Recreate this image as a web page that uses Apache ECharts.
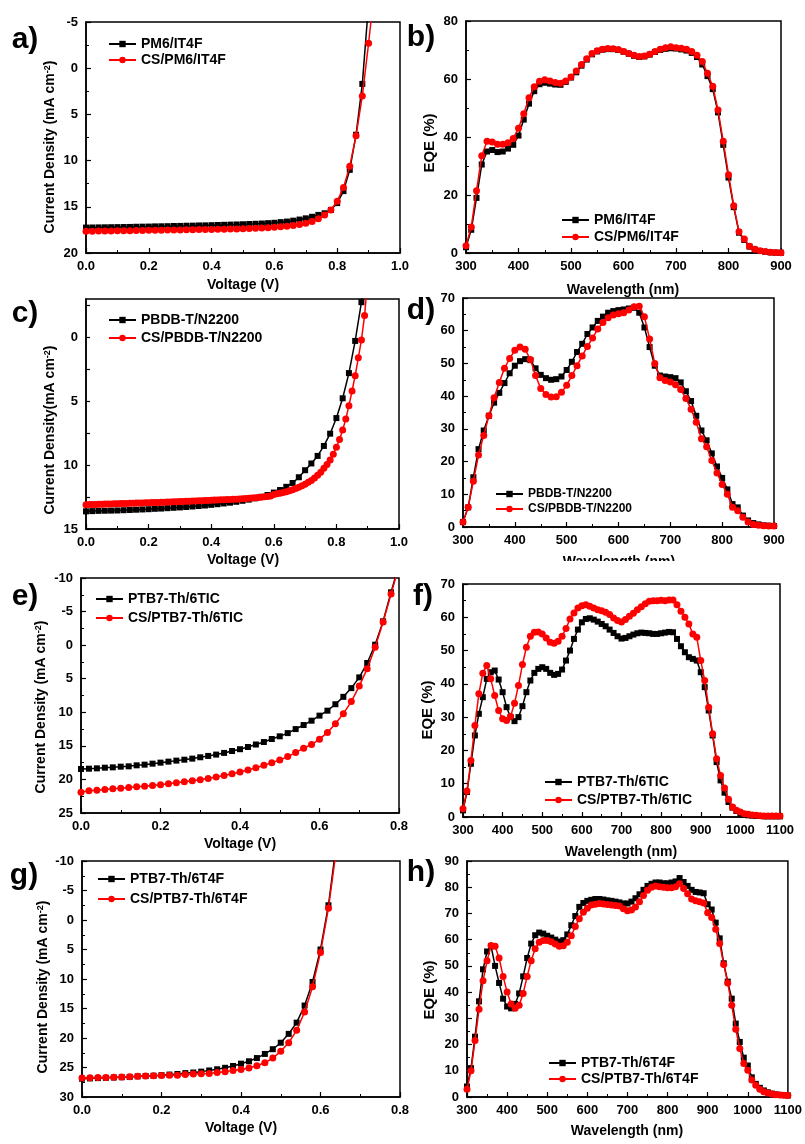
<!DOCTYPE html>
<html>
<head>
<meta charset="utf-8">
<script src="https://cdn.jsdelivr.net/npm/echarts@6/dist/echarts.min.js"></script>
<style>
  html, body { margin: 0; padding: 0; background: #fff; }
  #chart { width: 805px; height: 1144px; }
</style>
</head>
<body>
<div id="chart"></div>
<script>
const FONT = '"Liberation Sans", Arial, sans-serif';

// x grids
const volt02 = [0,0.02,0.04,0.06,0.08,0.1,0.12,0.14,0.16,0.18,0.2,0.22,0.24,0.26,0.28,0.3,0.32,0.34,0.36,0.38,
  0.4,0.42,0.44,0.46,0.48,0.5,0.52,0.54,0.56,0.58,0.6,0.62,0.64,0.66,0.68,0.7,0.72,0.74,0.76,0.78,
  0.8,0.82,0.84,0.86,0.88,0.9,0.92];
const volt01 = [0,0.01,0.02,0.03,0.04,0.05,0.06,0.07,0.08,0.09,0.1,0.11,0.12,0.13,0.14,0.15,0.16,0.17,0.18,0.19,
  0.2,0.21,0.22,0.23,0.24,0.25,0.26,0.27,0.28,0.29,0.3,0.31,0.32,0.33,0.34,0.35,0.36,0.37,0.38,0.39,
  0.4,0.41,0.42,0.43,0.44,0.45,0.46,0.47,0.48,0.49,0.5,0.51,0.52,0.53,0.54,0.55,0.56,0.57,0.58,0.59,
  0.6,0.61,0.62,0.63,0.64,0.65,0.66,0.67,0.68,0.69,0.7,0.71,0.72,0.73,0.74,0.75,0.76,0.77,0.78,0.79,
  0.8,0.81,0.82,0.83,0.84,0.85,0.86,0.87,0.88,0.89,0.9];
const wl900 = [300,310,320,330,340,350,360,370,380,390,400,410,420,430,440,450,460,470,480,490,
  500,510,520,530,540,550,560,570,580,590,600,610,620,630,640,650,660,670,680,690,
  700,710,720,730,740,750,760,770,780,790,800,810,820,830,840,850,860,870,880,890,900];
const wl1100 = [300,310,320,330,340,350,360,370,380,390,400,410,420,430,440,450,460,470,480,490,
  500,510,520,530,540,550,560,570,580,590,600,610,620,630,640,650,660,670,680,690,
  700,710,720,730,740,750,760,770,780,790,800,810,820,830,840,850,860,870,880,890,
  900,910,920,930,940,950,960,970,980,990,1000,1010,1020,1030,1040,1050,1060,1070,1080,1090,1100];

// legend names
const namesA = ['PM6/IT4F', 'CS/PM6/IT4F'];
const namesC = ['PBDB-T/N2200', 'CS/PBDB-T/N2200'];
const namesE = ['PTB7-Th/6TIC', 'CS/PTB7-Th/6TIC'];
const namesG = ['PTB7-Th/6T4F', 'CS/PTB7-Th/6T4F'];

// a) J-V PM6/IT4F
const jvA_ref = [17.25,17.24,17.23,17.22,17.21,17.2,17.19,17.18,17.16,17.15,
  17.14,17.12,17.11,17.1,17.08,17.07,17.05,17.04,17.02,17.01,
  16.99,16.97,16.95,16.93,16.91,16.89,16.86,16.84,16.81,16.77,
  16.73,16.66,16.6,16.5,16.38,16.25,16.08,15.88,15.7,15.35,
  14.6,13.3,11.0,7.2,1.7,-7];
const jvA_cs = [17.65,17.64,17.63,17.62,17.61,17.6,17.59,17.58,17.57,17.56,
  17.55,17.54,17.53,17.52,17.51,17.5,17.49,17.48,17.47,17.46,
  17.45,17.43,17.42,17.41,17.39,17.38,17.36,17.33,17.3,17.27,
  17.22,17.17,17.1,17.02,16.92,16.78,16.6,16.3,15.9,15.35,
  14.4,12.9,10.6,7.3,3.0,-2.7,-9];

// b) EQE PM6/IT4F
const eqeB_ref = [2,8,19,30.5,35,35.5,34.8,35,36,37.3,
  40.5,46,51.5,55.8,58.2,58.7,58.4,58.1,58,59,
  60.5,62.3,64.6,66.7,68.5,69.5,70.1,70.3,70.3,70,
  69.4,68.7,68,67.6,67.8,68.4,69.3,70,70.4,70.6,
  70.5,70.2,69.8,69,67.6,65,61,56.5,48.5,37.3,
  26,15.8,7,4.5,2.2,1.2,0.7,0.4,0.2,0.1,0.1];
const eqeB_cs = [2.5,9,21.5,33.5,38.5,38.3,37.5,37.5,38,39.5,
  43,48,53.5,57.3,59.2,59.7,59.3,58.8,58.5,59.3,
  60.7,62.8,65,67,68.8,69.7,70.3,70.5,70.4,70.2,
  69.5,68.8,68.2,67.8,67.9,68.5,69.5,70.3,70.8,71.1,
  70.8,70.6,70.3,69.5,68.2,66,62,57.5,49.3,38.5,
  27,16.3,7.3,4.8,2.3,1.3,0.8,0.5,0.3,0.2,0.1];

// c) J-V PBDB-T/N2200
const jvC_ref = [13.62,13.6,13.58,13.57,13.56,13.55,13.53,13.51,13.49,13.47,
  13.45,13.42,13.4,13.37,13.34,13.31,13.28,13.24,13.2,13.16,
  13.11,13.06,13.0,12.94,12.87,12.79,12.7,12.6,12.48,12.34,
  12.15,11.95,11.7,11.4,10.95,10.4,9.87,9.28,8.5,7.54,
  6.32,4.77,2.8,0.28,-2.75,-6.5];
const jvC_cs = [13.1,13.09,13.08,13.08,13.07,13.06,13.05,13.05,13.04,13.03,
  13.02,13.01,13.01,13.0,12.99,12.98,12.97,12.97,12.96,12.95,
  12.94,12.93,12.92,12.92,12.91,12.9,12.89,12.88,12.87,12.86,
  12.85,12.84,12.83,12.82,12.81,12.8,12.79,12.78,12.77,12.76,
  12.75,12.74,12.73,12.72,12.71,12.7,12.69,12.68,12.67,12.66,
  12.64,12.62,12.6,12.58,12.56,12.54,12.51,12.48,12.45,12.41,
  12.3,12.25,12.2,12.14,12.08,12.0,11.92,11.83,11.73,11.62,
  11.5,11.35,11.2,11.0,10.8,10.55,10.25,9.95,9.6,9.15,
  8.6,8.0,7.25,6.4,5.35,4.2,3.0,1.6,0.2,-1.7,-4.5];

// d) EQE PBDB-T/N2200
const eqeD_ref = [1.5,6,15.2,23.8,29.5,34,38,41,44,47,
  49.3,50.7,51.3,51,48.5,46.5,45.5,45,45.2,46,
  48,50.5,53.5,56,59,61,63,64.3,65.5,66,
  66.3,66.5,66.8,67,65.5,61,55,49.3,46.3,46,
  45.8,45.5,44.2,41.5,38.5,34,29.5,26.5,22.5,18.5,
  15,11.5,7,6,3.5,2,1.2,0.8,0.5,0.4,0.3];
const eqeD_cs = [1.5,6,14,22,28,34,39.5,44.2,48.5,51.5,
  54,55,54.3,51.2,46.3,42.3,40.5,39.7,39.8,41.2,
  43.3,46.3,49.3,52.3,55.2,57.8,60.5,62.5,64,64.8,
  65.2,65.5,66.3,67.3,67.5,64.3,57.5,50,45.6,44.8,
  44.3,43.5,42,39.3,36,32,27,24.5,20.3,16.5,
  13,10,6,5,3,1.5,0.8,0.5,0.4,0.3,0.3];

// e) J-V PTB7-Th/6TIC
const jvE_ref = [18.45,18.4,18.35,18.25,18.2,18.1,18.05,17.9,17.8,17.65,
  17.5,17.35,17.2,17.06,16.9,16.7,16.5,16.3,16.05,15.77,
  15.5,15.17,14.8,14.43,13.98,13.58,13.1,12.5,11.9,11.25,
  10.5,9.76,8.8,7.7,6.4,4.8,2.66,-0.07,-3.55,-7.87,-12];
const jvE_cs = [21.9,21.7,21.6,21.5,21.4,21.3,21.2,21.1,21.0,20.9,
  20.8,20.65,20.5,20.35,20.2,20.05,19.85,19.65,19.4,19.15,
  18.9,18.6,18.25,17.9,17.5,17.1,16.6,16.0,15.35,14.8,
  14.0,13.0,11.7,10.2,8.4,6.1,3.5,0.3,-3.45,-7.6,-11.8];

// f) EQE PTB7-Th/6TIC
const eqeF_ref = [2,7.5,16,24.5,31,36,41.5,43.5,44,41.3,
  37.5,33,30,28.8,30,33.3,37.5,41,43.3,44.5,
  45,44.5,43.3,42.7,43,44.3,47,50,53.5,56.3,
  58.5,59.5,59.7,59.3,58.7,58,57.3,56.3,55.3,54.3,
  53.6,53.8,54.3,54.8,55.2,55.4,55.3,55.2,55,55,
  55.2,55.4,55.6,55.5,53.5,51.3,49.5,48,47.5,47,
  43.5,39,32,24.5,16.5,11,7.3,4.5,2.8,1.8,
  1.1,0.7,0.5,0.4,0.3,0.3,0.2,0.2,0.2,0.2,0.2];
const eqeF_cs = [2.5,7.8,17,27.5,37,43.2,45.5,41.5,36.5,32,
  29.5,29,30.2,34.2,39.5,45.8,51,54.3,55.5,55.6,
  55,53.8,52.5,52.2,52.8,54.3,56.6,59.5,61.3,62.8,
  63.5,63.8,63.3,62.8,62.3,62,61.5,60.8,59.8,59,
  58.6,59.3,60.3,61.2,62.3,63.2,64.1,64.8,65,65,
  65.1,65,65.2,65.2,63.8,61.8,60,58,55,54,
  47,41,33,25,17.5,12.5,8.7,5.3,3,2,
  1.5,1,0.8,0.6,0.5,0.4,0.3,0.3,0.3,0.3,0.3];

// g) J-V PTB7-Th/6T4F
const jvG_ref = [26.9,26.85,26.8,26.75,26.7,26.65,26.6,26.5,26.45,26.4,
  26.3,26.2,26.1,25.95,25.85,25.7,25.5,25.3,25.05,24.75,
  24.35,23.95,23.4,22.7,21.9,20.8,19.3,17.4,14.5,10.5,
  5.0,-2.5,-13];
const jvG_cs = [26.8,26.75,26.7,26.7,26.65,26.6,26.55,26.5,26.45,26.4,
  26.35,26.3,26.3,26.2,26.1,26.05,26.0,25.85,25.7,25.5,
  25.35,25.1,24.7,24.2,23.4,22.25,20.8,18.7,15.6,11.3,
  5.5,-2.0,-12];

// h) EQE PTB7-Th/6T4F
const eqeH_ref = [4,11,23,36.5,48.7,55.5,57.5,50,43.5,37.5,
  34.5,33.8,35.5,39.5,46,53,58.5,61.7,62.7,62.3,
  61.5,60.8,60,59.3,59.8,62,65.5,69,72.5,74,
  74.8,75.2,75.5,75.5,75.3,75,74.8,74.5,74.2,73.8,
  73.8,74.5,75.8,77.3,79,80.5,81.3,81.8,81.8,81.5,
  81.5,81.8,82.2,83.5,82,80.5,79,78.2,78,77.7,
  73.5,71.5,66.5,60.5,51,44,37.5,28,21,15,
  12,7.5,5,3.5,2.5,1.8,1.3,1,0.8,0.7,0.6];
const eqeH_cs = [3,10,21.5,33.5,44.3,52,57.8,57.5,53,46,
  40,35.5,33.8,35,39.5,46,52,56.5,59,59.7,
  59.7,59.2,58.3,57.5,57.7,59,61.5,65,68,70.5,
  72,73.2,73.5,73.8,73.6,73.4,73.2,73,72.8,71.8,
  71,71.3,72.5,74.5,76.8,78.8,80,80.5,80.2,80,
  79.8,79.8,80.2,81.3,79.5,77.5,75.5,74.8,74.5,74,
  70.3,68.5,64,58.5,50.5,43.5,35,25.8,18.5,12.8,
  10.2,6.5,4.5,3,2,1.5,1.1,0.9,0.8,0.7,0.6];

function pairs(xs, ys) {
  return ys.map((y, i) => [xs[i], y]);
}

const grids = [
  {left: 86, top: 22, width: 314, height: 231},
  {left: 466, top: 21, width: 315, height: 232},
  {left: 86, top: 299, width: 313, height: 230},
  {left: 463, top: 298, width: 311, height: 229},
  {left: 81, top: 578, width: 318, height: 235},
  {left: 463, top: 584, width: 317, height: 233},
  {left: 82, top: 861, width: 318, height: 236},
  {left: 467, top: 861, width: 321, height: 236}
].map(g => Object.assign({show: true, borderColor: '#000', borderWidth: 1.5, containLabel: false}, g));

const labelStyle = {color: '#000', fontSize: 13, fontWeight: 'bold', fontFamily: FONT};

function xAxis(gi, min, max, interval, volts) {
  return {
    type: 'value', gridIndex: gi, min: min, max: max, interval: interval,
    axisLine: {onZero: false, lineStyle: {color: '#000', width: 1.5}},
    axisTick: {inside: true, length: 5, lineStyle: {color: '#000', width: 1.2}},
    minorTick: {show: true, splitNumber: 2, length: 3, lineStyle: {color: '#000', width: 1}},
    splitLine: {show: false},
    axisLabel: Object.assign({margin: 7,
      formatter: v => volts ? v.toFixed(1) : String(Math.round(v))}, labelStyle)
  };
}

function yAxis(gi, min, max, interval, inverse) {
  return {
    type: 'value', gridIndex: gi, min: min, max: max, interval: interval, inverse: !!inverse,
    axisLine: {onZero: false, lineStyle: {color: '#000', width: 1.5}},
    axisTick: {inside: true, length: 5, lineStyle: {color: '#000', width: 1.2}},
    minorTick: {show: true, splitNumber: 2, length: 3, lineStyle: {color: '#000', width: 1}},
    splitLine: {show: false},
    axisLabel: Object.assign({margin: 8}, labelStyle)
  };
}

const yC = {
  type: 'value', gridIndex: 2, min: -3, max: 15, inverse: true,
  axisLine: {onZero: false, lineStyle: {color: '#000', width: 1.5}},
  axisTick: {inside: true, length: 4, lineStyle: {color: '#000', width: 1.2},
    customValues: [-2.5, 0, 2.5, 5, 7.5, 10, 12.5, 15]},
  splitLine: {show: false},
  axisLabel: Object.assign({margin: 8, customValues: [0, 5, 10, 15]}, labelStyle)
};

function pair(gi, names, xsRef, ysRef, xsCs, ysCs) {
  return [
    {type: 'line', name: names[0], xAxisIndex: gi, yAxisIndex: gi, data: pairs(xsRef, ysRef),
      symbol: 'rect', symbolSize: 6, color: '#000', lineStyle: {color: '#000', width: 1.5},
      itemStyle: {color: '#000'}, z: 2},
    {type: 'line', name: names[1], xAxisIndex: gi, yAxisIndex: gi, data: pairs(xsCs, ysCs),
      symbol: 'circle', symbolSize: 7, color: '#ff0000', lineStyle: {color: '#ff0000', width: 1.5},
      itemStyle: {color: '#ff0000'}, z: 3}
  ];
}

function legend(names, left, top, fs, gap) {
  return {
    data: names, left: left, top: top, orient: 'vertical', selectedMode: false,
    itemWidth: 27, itemHeight: 8, itemGap: gap,
    textStyle: {color: '#000', fontSize: fs, fontWeight: 'bold', fontFamily: FONT}
  };
}

function label(text, x, y, size) {
  return {type: 'text', x: x, y: y, z: 10,
    style: {text: text, fill: '#000', fontSize: size, fontWeight: 'bold', fontFamily: FONT,
      align: 'center', verticalAlign: 'middle'}};
}

function vlabel(text, x, y, size) {
  return {type: 'text', x: x, y: y, rotation: Math.PI / 2, z: 10,
    style: {text: text, fill: '#000', fontSize: size, fontWeight: 'bold', fontFamily: FONT,
      align: 'center', verticalAlign: 'middle',
      rich: {s: {fontSize: 9, fontWeight: 'bold', fontFamily: FONT, fill: '#000', verticalAlign: 'top'}}}};
}

const chart = echarts.init(document.getElementById('chart'));
chart.setOption({
  animation: false,
  backgroundColor: '#fff',
  grid: grids,
  xAxis: [
    xAxis(0, 0, 1.0, 0.2, true),
    xAxis(1, 300, 900, 100, false),
    xAxis(2, 0, 1.0, 0.2, true),
    xAxis(3, 300, 900, 100, false),
    xAxis(4, 0, 0.8, 0.2, true),
    xAxis(5, 300, 1100, 100, false),
    xAxis(6, 0, 0.8, 0.2, true),
    xAxis(7, 300, 1100, 100, false)
  ],
  yAxis: [
    yAxis(0, -5, 20, 5, true),
    yAxis(1, 0, 80, 20),
    yC,
    yAxis(3, 0, 70, 10),
    yAxis(4, -10, 25, 5, true),
    yAxis(5, 0, 70, 10),
    yAxis(6, -10, 30, 5, true),
    yAxis(7, 0, 90, 10)
  ],
  legend: [
    legend(namesA, 103, 32, 14, 2),
    legend(namesA, 556, 208, 14, 3),
    legend(namesC, 103, 308, 14, 4),
    legend(namesC, 490, 483, 12, 3),
    legend(namesE, 90, 587, 14, 5),
    legend(namesE, 539, 770, 14, 4),
    legend(namesG, 92, 867, 14, 6),
    legend(namesG, 543, 1051, 14, 2)
  ],
  series: [].concat(
    pair(0, namesA, volt02, jvA_ref, volt02, jvA_cs),
    pair(1, namesA, wl900, eqeB_ref, wl900, eqeB_cs),
    pair(2, namesC, volt02, jvC_ref, volt01, jvC_cs),
    pair(3, namesC, wl900, eqeD_ref, wl900, eqeD_cs),
    pair(4, namesE, volt02, jvE_ref, volt02, jvE_cs),
    pair(5, namesE, wl1100, eqeF_ref, wl1100, eqeF_cs),
    pair(6, namesG, volt02, jvG_ref, volt02, jvG_cs),
    pair(7, namesG, wl1100, eqeH_ref, wl1100, eqeH_cs)
  ),
  graphic: [
    label('a)', 25, 40, 30), label('b)', 421, 38, 30),
    label('c)', 25, 314, 30), label('d)', 421, 311, 30),
    label('e)', 25, 597, 30), label('f)', 423, 597, 30),
    label('g)', 24, 876, 30), label('h)', 421, 873, 30),
    label('Voltage (V)', 243, 285, 14), label('Wavelength (nm)', 623, 290, 14),
    label('Voltage (V)', 243, 560, 14), label('Wavelength (nm)', 619, 562, 14),
    {type: 'rect', shape: {x: 402, y: 561, width: 403, height: 16}, style: {fill: '#fff'}, z: 11},
    label('Voltage (V)', 240, 844, 14), label('Wavelength (nm)', 621, 852, 14),
    label('Voltage (V)', 241, 1128, 14), label('Wavelength (nm)', 627, 1131, 14),
    vlabel('Current Density (mA cm{s|-2})', 50, 147, 14),
    vlabel('EQE (%)', 430, 143, 15),
    vlabel('Current Density(mA cm{s|-2})', 50, 430, 14),
    vlabel('Current Density (mA cm{s|-2})', 41, 707, 14),
    vlabel('EQE (%)', 428, 710, 15),
    vlabel('Current Density (mA cm{s|-2})', 43, 987, 14),
    vlabel('EQE (%)', 430, 990, 15)
  ]
});
</script>
</body>
</html>
